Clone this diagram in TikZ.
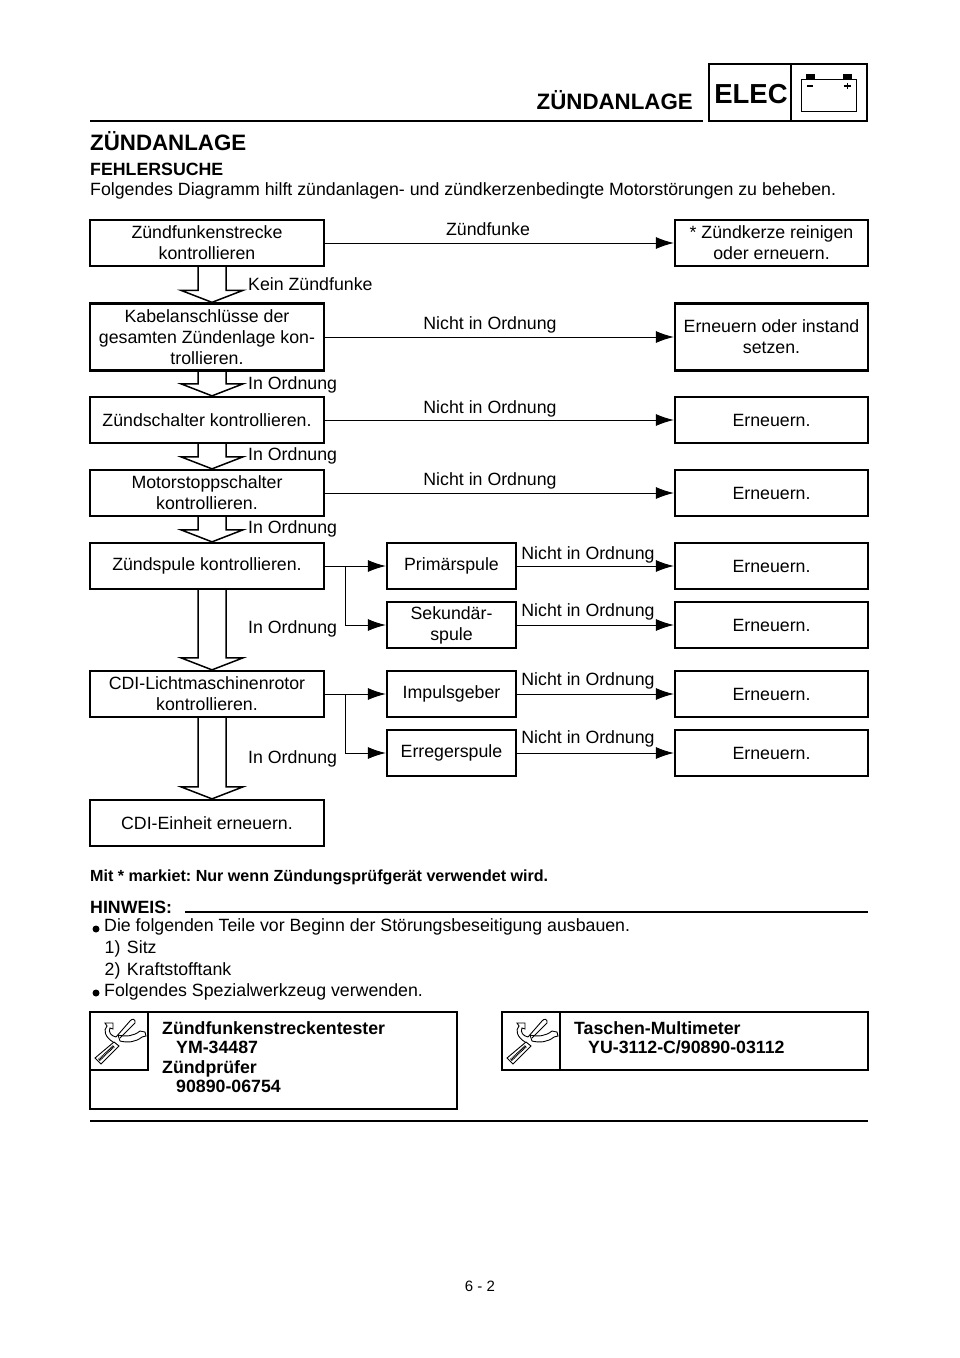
\documentclass[tikz,border=0pt]{standalone}
\usepackage{fontspec}
\setmainfont{Liberation Sans}
\frenchspacing
\usetikzlibrary{arrows.meta,calc}
\tikzset{
  flowbox/.style = {draw, line width = 2.3pt, align = center, inner sep = 0pt, font = \fsize},
  leftbox/.style = {flowbox, minimum width = 234pt},
  midbox/.style = {flowbox, minimum width = 129pt, minimum height = 46pt},
  rightbox/.style = {flowbox, minimum width = 193pt},
  lbl/.style = {anchor = west, inner sep = 0pt, font = \fsize},
  toplbl/.style = {inner sep = 0pt, font = \fsize},
  flow/.style = {line width = 1pt, -{Latex[length = 18pt, width = 12pt]}},
  rule/.style = {line width = 2.3pt},
  hollow/.style = {line width = 1.5pt, line join = miter}
}
\newcommand{\fsize}{\fontsize{17.75}{21}\selectfont}
\newcommand{\blockarrow}[2]{
  \draw[hollow] let \p1 = (#1.south), \p2 = (#2.north) in
    (\x1+-9pt,\y1) -- (\x1+-9pt,\y2+12pt) -- (\x1+-26pt,\y2+12pt) -- (\x1+5pt,\y2)
    -- (\x1+36pt,\y2+12pt) -- (\x1+19pt,\y2+12pt) -- (\x1+19pt,\y1);
}
\tikzset{
  pics/toolicon/.style = {code = {
    \draw[line width = .9pt] (5,46) -- (24,30) -- (29,34) -- (11,52) -- cycle;
    \draw[line width = 2.6pt, dash pattern = on 1pt off .6pt] (9,48) -- (24,34);
    \draw[line width = .9pt] (26,25) -- (40,9) .. controls (42,6) and (46,7) .. (45,11) -- (30,26);
    \draw[line width = .9pt] (23,30) .. controls (15,25) and (13,18) .. (17,14) -- (15,11) -- (23,11) -- (23,17)
      -- (20,16) .. controls (18,20) and (21,24) .. (26,25);
    \draw[line width = .9pt] (28,23) .. controls (36,25) and (44,24) .. (50,19) -- (55,20) -- (56,24) -- (52,25)
      .. controls (46,30) and (38,31) .. (30,29) -- (28,23);
  }}
}
\begin{document}
\begin{tikzpicture}
  [x = 1pt, y = -1pt]
  \useasboundingbox (0,0) rectangle (960,1358);

  % page head
  \coordinate (headl) at (90,121);
  \coordinate (headr) at (703,121);
  \draw[rule] (headl) -- (headr);
  \node[inner sep = 0pt, anchor = east, font = \fontsize{22.3}{24}\selectfont\bfseries] (headtitle) at (693,100) {ZÜNDANLAGE};
  \draw[rule] (709,64) rectangle (867,121);
  \draw[rule] (791,64) -- (791,121);
  \node[inner sep = 0pt, font = \fontsize{27.5}{30}\selectfont\bfseries] (elec) at (751,94.5) {ELEC};
  \draw[line width = 1pt] (801,79) rectangle (856,111);
  \fill (806,74) rectangle (815,79);
  \fill (843,74) rectangle (852,79);
  \draw[line width = 1.3pt] (807,86) -- (813,86);
  \draw[line width = 1.3pt] (844,86) -- (851,86) (847.5,83) -- (847.5,89);

  % intro
  \node[lbl, font = \fontsize{22.3}{24}\selectfont\bfseries] (title) at (90,141) {ZÜNDANLAGE};
  \node[lbl, font = \fontsize{17.75}{21}\selectfont\bfseries] (fehler) at (90,169.5) {FEHLERSUCHE};
  \node[lbl] (intro) at (90,191) {Folgendes Diagramm hilft zündanlagen- und zündkerzenbedingte Motorstörungen zu beheben.};

  % left column
  \node[leftbox, minimum height = 46pt] (zfs) at (207,243) {Zündfunkenstrecke\\kontrollieren};
  \node[leftbox, minimum height = 67pt] (kabel) at (207,337) {Kabelanschlüsse der\\gesamten Zündenlage kon-\\trollieren.};
  \node[leftbox, minimum height = 46pt] (schalter) at (207,420) {Zündschalter kontrollieren.};
  \node[leftbox, minimum height = 46pt] (stopp) at (207,493) {Motorstoppschalter\\kontrollieren.};
  \node[leftbox, minimum height = 46pt] (spule) at (207,566) {Zündspule kontrollieren.};
  \node[leftbox, minimum height = 46pt] (cdi) at (207,694) {CDI-Lichtmaschinenrotor\\kontrollieren.};
  \node[leftbox, minimum height = 46pt] (einheit) at (207,823) {CDI-Einheit erneuern.};

  % middle column
  \node[midbox] (prim) at (451.5,566) {Primärspule};
  \node[midbox] (sek) at (451.5,625) {Sekundär-\\spule};
  \node[midbox] (impuls) at (451.5,694) {Impulsgeber};
  \node[midbox] (erreger) at (451.5,753) {Erregerspule};

  % right column
  \node[rightbox, minimum height = 46pt] (kerze) at (771.5,243) {* Zündkerze reinigen\\oder erneuern.};
  \node[rightbox, minimum height = 67pt] (inst) at (771.5,337) {Erneuern oder instand\\setzen.};
  \foreach \n/\y in {ern3/420,ern4/493,ern5/566,ern6/625,ern7/694,ern8/753}{
    \node[rightbox, minimum height = 46pt] (\n) at (771.5,\y) {Erneuern.};
  }

  % block arrows
  \blockarrow{zfs}{kabel}
  \blockarrow{kabel}{schalter}
  \blockarrow{schalter}{stopp}
  \blockarrow{stopp}{spule}
  \blockarrow{spule}{cdi}
  \blockarrow{cdi}{einheit}

  % connectors
  \draw[flow] (zfs) -- (kerze);
  \draw[flow] (kabel) -- (inst);
  \draw[flow] (schalter) -- (ern3);
  \draw[flow] (stopp) -- (ern4);
  \draw[flow] (spule) -- (prim);
  \draw[flow] (cdi) -- (impuls);
  \coordinate (fork1) at (345,566);
  \coordinate (fork2) at (345,694);
  \draw[flow] (fork1) |- (sek);
  \draw[flow] (fork2) |- (erreger);
  \foreach \a/\b in {prim/ern5,sek/ern6,impuls/ern7,erreger/ern8}{
    \draw[flow] (\a) -- (\b);
  }

  % connector labels
  \node[toplbl] (l1) at (488,229) {Zündfunke};
  \node[lbl] (l2) at (248,284.5) {Kein Zündfunke};
  \node[toplbl] (l3) at (490,324.5) {Nicht in Ordnung};
  \node[lbl] (l4) at (248,384.5) {In Ordnung};
  \node[toplbl] (l5) at (490,409) {Nicht in Ordnung};
  \node[lbl] (l6) at (248,456) {In Ordnung};
  \node[toplbl] (l7) at (490,480.5) {Nicht in Ordnung};
  \node[lbl] (l8) at (248,529) {In Ordnung};
  \node[lbl] (l9) at (248,629) {In Ordnung};
  \node[lbl] (l10) at (248,759) {In Ordnung};
  \foreach \n/\y in {m1/555,m2/612,m3/681,m4/739}{
    \node[toplbl] (\n) at (588,\y) {Nicht in Ordnung};
  }

  % notes
  \node[lbl, font = \fontsize{16.1}{18}\selectfont\bfseries] (mit) at (90,877) {Mit * markiet: Nur wenn Zündungsprüfgerät verwendet wird.};
  \node[lbl, font = \fontsize{17.75}{21}\selectfont\bfseries] (hinweis) at (90,907) {HINWEIS:};
  \coordinate (hintl) at (185,912);
  \coordinate (hintr) at (868,912);
  \draw[rule] (hintl) -- (hintr);
  \node[circle, fill, inner sep = 0pt, minimum size = 7pt] (b1) at (96,929) {};
  \node[lbl] (t1) at (104,927) {Die folgenden Teile vor Beginn der Störungsbeseitigung ausbauen.};
  \node[lbl] (t2) at (104.5,949) {1)\hspace{6.5pt}Sitz};
  \node[lbl] (t3) at (104.5,971) {2)\hspace{6.5pt}Kraftstofftank};
  \node[circle, fill, inner sep = 0pt, minimum size = 7pt] (b2) at (96,993) {};
  \node[lbl] (t4) at (104,992) {Folgendes Spezialwerkzeug verwenden.};

  % tool boxes
  \draw[rule] (90,1012) rectangle (457,1109);
  \draw[rule] (148,1012) |- (90,1070);
  \pic at (90,1012) {toolicon};
  \node[anchor = north west, align = left, inner sep = 0pt, font = \fontsize{17.75}{19.5}\selectfont\bfseries] (tool1) at (162,1021)
    {Zündfunkenstreckentester\\\hspace*{14pt}YM-34487\\Zündprüfer\\\hspace*{14pt}90890-06754};
  \draw[rule] (502,1012) rectangle (868,1070);
  \draw[rule] (560,1012) -- (560,1070);
  \pic at (502,1012) {toolicon};
  \node[anchor = north west, align = left, inner sep = 0pt, font = \fontsize{17.75}{19.5}\selectfont\bfseries] (tool2) at (574,1021)
    {Taschen-Multimeter\\\hspace*{14pt}YU-3112-C/90890-03112};
  \coordinate (footl) at (90,1121);
  \coordinate (footr) at (868,1121);
  \draw[rule] (footl) -- (footr);
  \node[inner sep = 0pt, font = \fontsize{15}{17}\selectfont] (pageno) at (480,1286) {6 - 2};
\end{tikzpicture}
\end{document}
